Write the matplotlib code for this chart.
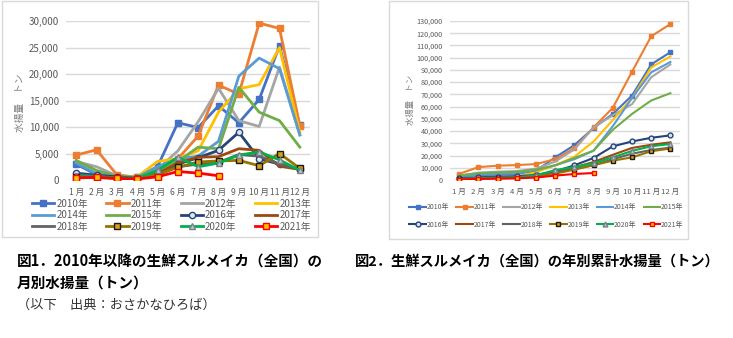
import matplotlib.pyplot as plt
from matplotlib.patches import Rectangle

plt.rcParams['font.family'] = ['Noto Sans CJK JP', 'DejaVu Sans']

# ── data ───────────────────────────────────
MONTHS = ["1 月", "2 月", "3 月", "4 月", "5 月", "6 月",
          "7 月", "8 月", "9 月", "10 月", "11 月", "12 月"]
YEARS = ["2010年", "2011年", "2012年", "2013年", "2014年", "2015年",
         "2016年", "2017年", "2018年", "2019年", "2020年", "2021年"]

# 図1: monthly landings (t)
m2010 = [3000, 1000, 500, 500, 2500, 10800, 9900, 14000, 10800, 15200, 25300, 10300]
m2011 = [4700, 5700, 1000, 500, 2000, 4000, 8300, 17900, 16200, 29600, 28600, 10200]
m2012 = [3500, 2500, 800, 500, 2000, 5500, 11000, 17300, 11200, 10100, 21300, 8500]
m2013 = [700, 1000, 500, 600, 3500, 4000, 5500, 12800, 17200, 18000, 25000, 9000]
m2014 = [3200, 1200, 600, 500, 2500, 4000, 4500, 7300, 19600, 23000, 21000, 8500]
m2015 = [3700, 1800, 700, 500, 1800, 3500, 6200, 5900, 17500, 12800, 11200, 6200]
m2016 = [1300, 900, 600, 300, 1000, 3000, 4200, 5600, 9000, 4000, 3000, 2000]
m2017 = [600, 500, 300, 200, 1200, 3200, 4300, 4400, 5900, 5600, 2600, 2000]
m2018 = [1000, 700, 400, 300, 1000, 2500, 3000, 3300, 4800, 4500, 3000, 2000]
m2019 = [600, 500, 400, 200, 1000, 2400, 3400, 3600, 3700, 2700, 5000, 2200]
m2020 = [700, 600, 400, 300, 1800, 4300, 2500, 3200, 4700, 5300, 3800, 1800]
m2021 = [400, 500, 300, 200, 600, 1600, 1300, 800]

# 図2: cumulative landings (t)
c2010 = [3000, 4000, 4500, 5000, 7500, 18500, 28500, 42500, 54000, 69000, 94500, 104500]
c2011 = [5000, 10500, 11700, 12200, 13000, 17000, 26000, 43000, 59000, 88500, 117500, 127500]
c2012 = [3500, 6000, 6800, 7300, 9300, 15000, 25000, 43000, 53000, 62000, 84000, 94500]
c2013 = [700, 1700, 2200, 2800, 6300, 12000, 19000, 31500, 49000, 67000, 92000, 101000]
c2014 = [3200, 4400, 5000, 5500, 8000, 12000, 17000, 24000, 44000, 67000, 88000, 96500]
c2015 = [3700, 5500, 6200, 6700, 8500, 12000, 18000, 24000, 41000, 54000, 65000, 71000]
c2016 = [1300, 2200, 2800, 3100, 4100, 7000, 12000, 18000, 27500, 31500, 34500, 36500]
c2017 = [600, 1100, 1400, 1600, 2800, 6000, 10300, 14700, 20600, 26200, 28800, 30800]
c2018 = [1000, 1700, 2100, 2400, 3400, 5900, 8900, 12200, 17000, 21500, 24500, 26500]
c2019 = [600, 1100, 1500, 1700, 2700, 5100, 8500, 12100, 15800, 18500, 23500, 25700]
c2020 = [700, 1300, 1700, 2000, 3800, 8100, 10600, 13800, 18500, 23800, 27600, 29400]
c2021 = [400, 900, 1200, 1400, 2000, 3600, 4900, 5700]

monthly = [m2010, m2011, m2012, m2013, m2014, m2015,
           m2016, m2017, m2018, m2019, m2020, m2021]
cumulative = [c2010, c2011, c2012, c2013, c2014, c2015,
              c2016, c2017, c2018, c2019, c2020, c2021]

# ── styles (line colour, marker, face, edge) ─
STYLES = [
    ("#4472C4", "s", "#4472C4", "#4472C4"),
    ("#ED7D31", "s", "#ED7D31", "#ED7D31"),
    ("#A5A5A5", None, None, None),
    ("#FFC000", None, None, None),
    ("#5B9BD5", None, None, None),
    ("#70AD47", None, None, None),
    ("#264478", "o", "#DDE6F3", "#264478"),
    ("#9E480E", None, None, None),
    ("#636363", None, None, None),
    ("#997300", "s", "#D4A017", "#1a1a1a"),
    ("#00B050", "^", "#A9CBE8", "#7F7F7F"),
    ("#FF0000", "s", "#FFC000", "#FF0000"),
]

W, H = 733, 338
fig = plt.figure(figsize=(W / 100, H / 100), dpi=100)


def fx(px):
    return px / W


def fy(py):
    return 1 - py / H


# chart frames
for (x0, y0, x1, y1) in [(2, 1, 318, 237), (389, 1, 688, 239)]:
    fig.patches.append(Rectangle((fx(x0), fy(y1)), fx(x1 - x0), (y1 - y0) / H,
                                 transform=fig.transFigure, fill=False,
                                 edgecolor="#D9D9D9", linewidth=1))


def draw(ax, data, ymax, step, lw, ms, yfs, xfs):
    handles = []
    for vals, (c, mk, fc, ec) in zip(data, STYLES):
        h, = ax.plot(range(len(vals)), vals, color=c, linewidth=lw,
                     marker=mk, markersize=ms, markerfacecolor=fc,
                     markeredgecolor=ec, markeredgewidth=1.0, zorder=3)
        handles.append(h)
    ax.set_xlim(-0.5, 11.5)
    ax.set_ylim(0, ymax)
    ax.set_yticks(range(0, ymax + 1, step))
    ax.set_yticklabels([f"{v:,}" for v in range(0, ymax + 1, step)])
    ax.set_xticks(range(12))
    ax.set_xticklabels(MONTHS)
    ax.grid(axis="y", color="#D9D9D9", linewidth=1)
    ax.set_axisbelow(True)
    for s in ax.spines.values():
        s.set_visible(False)
    ax.tick_params(length=0, colors="#595959")
    ax.tick_params(axis="y", labelsize=yfs, pad=5)
    ax.tick_params(axis="x", labelsize=xfs, pad=6)
    return handles


# ── 図1 ─────────────────────────────────────
ax1 = fig.add_axes([fx(66), fy(180), fx(244), (180 - 21) / H])
h1 = draw(ax1, monthly, 30000, 5000, 2.0, 4.5, 7, 6.2)
fig.text(fx(20), fy(103), "水揚量　トン", rotation=90, ha="center", va="center",
         fontsize=7, color="#7F7F7F")
order = [0, 4, 8, 1, 5, 9, 2, 6, 10, 3, 7, 11]
fig.legend([h1[i] for i in order], [YEARS[i] for i in order], ncol=4,
           loc="upper left", bbox_to_anchor=(fx(27), fy(194)), frameon=False,
           fontsize=7, handlelength=2.3, handletextpad=0.2, columnspacing=1.9,
           labelspacing=0.15, borderpad=0, labelcolor="#595959")

# ── 図2 ─────────────────────────────────────
ax2 = fig.add_axes([fx(449.5), fy(180), fx(230.5), (180 - 21) / H])
h2 = draw(ax2, cumulative, 130000, 10000, 1.5, 3.5, 5.2, 5.6)
fig.text(fx(410), fy(100), "水揚量　トン", rotation=90, ha="center", va="center",
         fontsize=6, color="#7F7F7F")
order = [0, 6, 1, 7, 2, 8, 3, 9, 4, 10, 5, 11]
fig.legend([h2[i] for i in order], [YEARS[i] for i in order], ncol=6,
           loc="upper left", bbox_to_anchor=(fx(406), fy(200)), frameon=False,
           fontsize=5, handlelength=2.4, handletextpad=0.1, columnspacing=1.0,
           labelspacing=1.35, borderpad=0, labelcolor="#595959")

# ── captions ────────────────────────────────
fig.text(fx(17), fy(262), "図1．2010年以降の生鮮スルメイカ（全国）の", fontsize=10.5,
         fontweight="bold", va="center")
fig.text(fx(17), fy(283), "月別水揚量（トン）", fontsize=10.5,
         fontweight="bold", va="center")
fig.text(fx(17), fy(305), "（以下　出典：おさかなひろば）", fontsize=9.5,
         va="center", color="#333333")
fig.text(fx(355), fy(262), "図2．生鮮スルメイカ（全国）の年別累計水揚量（トン）",
         fontsize=10.3, fontweight="bold", va="center")

fig.savefig("out.png", dpi=100)
